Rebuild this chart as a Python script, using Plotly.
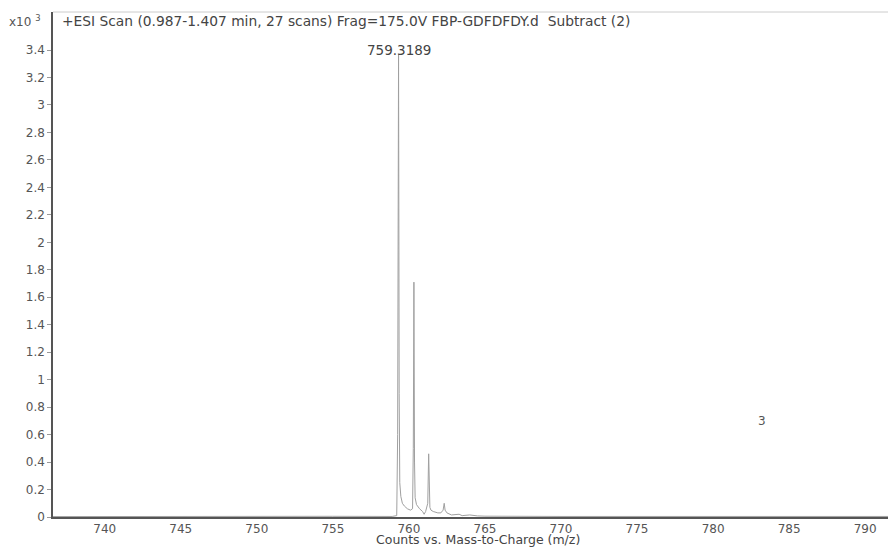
import plotly.graph_objects as go

# m/z values and intensities (x10^3 counts)
mz = [736.6, 740.0, 745.0, 750.0, 755.0, 758.9,
      759.20, 759.26, 759.32, 759.36, 759.40, 759.47, 759.57, 759.70, 759.90, 760.10,
      760.24, 760.29, 760.33, 760.37, 760.41, 760.50, 760.70, 760.90, 761.00, 761.10,
      761.24, 761.30, 761.34, 761.38, 761.45, 761.60, 761.90, 762.10,
      762.25, 762.32, 762.38, 762.50, 762.80, 763.30, 763.50, 764.00, 764.50,
      765.0, 770.0, 775.0, 780.0, 785.0, 791.5]
intensity = [0.003, 0.004, 0.005, 0.004, 0.005, 0.004,
             0.01, 0.6, 3.37, 0.9, 0.25, 0.15, 0.10, 0.08, 0.06, 0.05,
             0.06, 0.5, 1.71, 0.4, 0.14, 0.09, 0.06, 0.04, 0.02, 0.04,
             0.10, 0.46, 0.12, 0.07, 0.05, 0.04, 0.03, 0.03,
             0.05, 0.10, 0.05, 0.03, 0.015, 0.02, 0.01, 0.015, 0.008,
             0.006, 0.004, 0.005, 0.004, 0.005, 0.004]

x_ticks = [740, 745, 750, 755, 760, 765, 770, 775, 780, 785, 790]
y_ticks = [0, 0.2, 0.4, 0.6, 0.8, 1, 1.2, 1.4, 1.6, 1.8, 2, 2.2, 2.4, 2.6, 2.8, 3, 3.2, 3.4]
y_tick_text = ["0", "0.2", "0.4", "0.6", "0.8", "1", "1.2", "1.4", "1.6", "1.8",
               "2", "2.2", "2.4", "2.6", "2.8", "3", "3.2", "3.4"]

peak_label_mz = 759.3189
title_text = "+ESI Scan (0.987-1.407 min, 27 scans) Frag=175.0V FBP-GDFDFDY.d\u00a0 Subtract (2)"

FONT = "DejaVu Sans, Arial, sans-serif"
GREY = "#555555"
DARK = "#444444"

fig = go.Figure()
fig.add_trace(go.Scatter(x=mz, y=intensity, mode="lines",
                         line=dict(color="#a0a0a0", width=1), hoverinfo="skip",
                         showlegend=False))

fig.update_layout(
    width=888, height=547,
    margin=dict(l=53, r=0, t=12, b=30),
    paper_bgcolor="white", plot_bgcolor="white",
    font=dict(family=FONT, size=12, color=GREY),
    xaxis=dict(range=[736.6, 791.5], tickvals=x_ticks, showgrid=False, zeroline=False,
               showline=True, linecolor="#555555", linewidth=1.5,
               ticks="outside", ticklen=0, tickcolor="#999999",
               tickfont=dict(family=FONT, size=12, color=GREY)),
    yaxis=dict(range=[0, 3.677], tickvals=y_ticks, ticktext=y_tick_text,
               showgrid=False, zeroline=False,
               showline=True, linecolor="#555555", linewidth=1.5,
               ticks="outside", ticklen=4, tickcolor="#999999",
               tickfont=dict(family=FONT, size=12, color=GREY)),
    shapes=[dict(type="line", xref="paper", yref="paper", x0=0, x1=1, y0=1, y1=1,
                 line=dict(color="#cccccc", width=1))],
    annotations=[
        dict(text=title_text, xref="paper", yref="paper", x=0.008, y=0.982,
             xanchor="left", yanchor="middle", showarrow=False,
             font=dict(family=FONT, size=13.8, color=DARK)),
        dict(text="x10 <sup>3</sup>", xref="paper", yref="paper", x=-0.055, y=0.982,
             xanchor="left", yanchor="middle", showarrow=False,
             font=dict(family=FONT, size=12, color=GREY)),
        dict(text=f"{peak_label_mz:.4f}", xref="x", yref="paper", x=peak_label_mz, y=0.925,
             xanchor="center", yanchor="middle", showarrow=False,
             font=dict(family=FONT, size=13.5, color=DARK)),
        dict(text="Counts vs. Mass-to-Charge (m/z)", xref="paper", yref="paper",
             x=0.509, y=-0.0455, xanchor="center", yanchor="middle", showarrow=False,
             font=dict(family=FONT, size=12.5, color=DARK)),
        dict(text="3", xref="x", yref="y", x=783.2, y=0.70, showarrow=False,
             font=dict(family=FONT, size=12, color=GREY)),
    ],
)

fig.write_html("out.html", config={"displayModeBar": False},
               post_script="document.body.style.margin='0';")
